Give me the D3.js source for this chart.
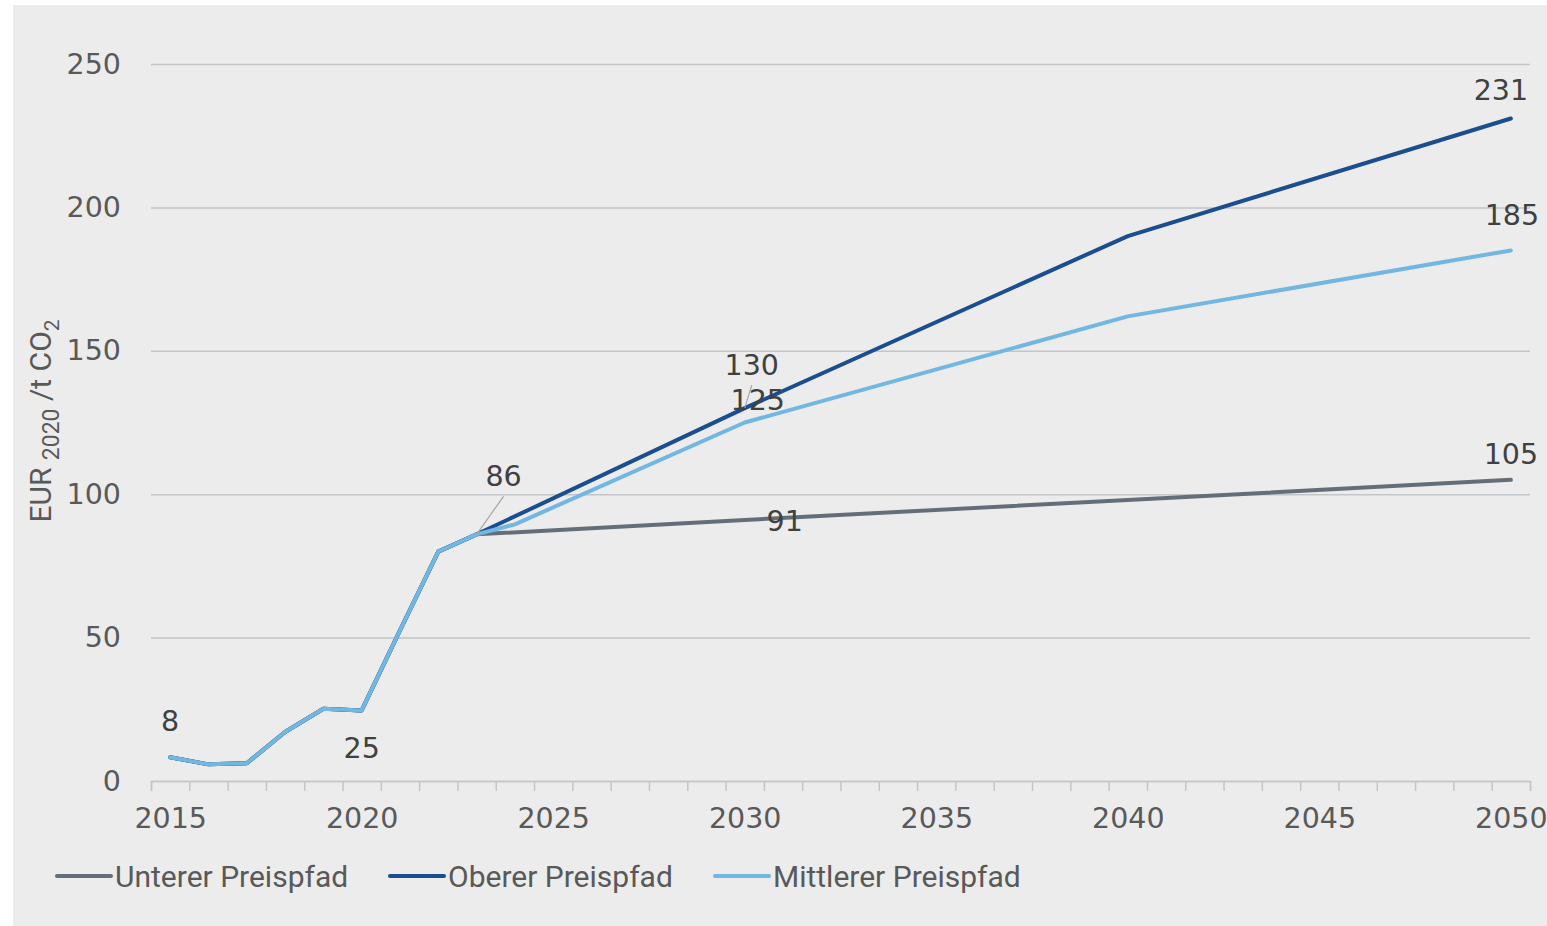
<!DOCTYPE html>
<html>
<head>
<meta charset="utf-8">
<script src="https://cdn.jsdelivr.net/npm/d3@7"></script>
<style>
  html, body { margin: 0; padding: 0; background: #ffffff; }
  svg { display: block; }
</style>
</head>
<body>
<svg id="chart" width="1547" height="926"></svg>
<script>
// Historical CO2 prices 2015–2023 (shared by all three paths)
const histYears  = [2015, 2016, 2017, 2018, 2019, 2020, 2021, 2022, 2023];
const histValues = [8.3, 5.8, 6.2, 17.1, 25.2, 24.6, 52.5, 80, 86];

// Projection years and values per price path
const unterYears  = [2030, 2040, 2050];
const unterValues = [91, 98, 105];
const oberYears   = [2030, 2040, 2050];
const oberValues  = [130, 190, 231];
const mittelYears  = [2024, 2030, 2040, 2050];
const mittelValues = [89.5, 125, 162, 185];

const seriesNames  = ["Unterer Preispfad", "Oberer Preispfad", "Mittlerer Preispfad"];
const seriesColors = ["#646e78", "#1a4e8f", "#72b7e2"];

const xTickLabels = ["2015", "2020", "2025", "2030", "2035", "2040", "2045", "2050"];
const yTickValues = [0, 50, 100, 150, 200, 250];

// Data labels: which series, which year
const labelSpecs = [
  { s: 2, year: 2015, dx: 0,   dy: -36, leader: false },
  { s: 2, year: 2020, dx: 0,   dy: 38,  leader: false },
  { s: 2, year: 2023, dx: 27,  dy: -58, leader: true },
  { s: 1, year: 2030, dx: 7,   dy: -43, leader: true },
  { s: 2, year: 2030, dx: 13,  dy: -22, leader: false },
  { s: 0, year: 2030, dx: 40,  dy: 1,   leader: false },
  { s: 1, year: 2050, dx: -10, dy: -28, leader: false },
  { s: 2, year: 2050, dx: 1,   dy: -35, leader: false },
  { s: 0, year: 2050, dx: 0,   dy: -25, leader: false }
];

const build = (yrs, vals) =>
  histYears.map((yr, i) => ({ year: yr, value: histValues[i] }))
    .concat(yrs.map((yr, i) => ({ year: yr, value: vals[i] })));

const series = [
  build(unterYears, unterValues),
  build(oberYears, oberValues),
  build(mittelYears, mittelValues)
];

const svg = d3.select("#chart");
const numFont = "'DejaVu Sans', sans-serif";
const txtFont = "Roboto, sans-serif";

// Panel background
svg.append("rect")
  .attr("x", 13).attr("y", 5)
  .attr("width", 1547 - 13).attr("height", 926 - 5)
  .attr("fill", "#ececec");

const plotLeft = 151, plotRight = 1530, plotTop = 64, plotBottom = 781;

// Each year occupies one slot; points sit in the slot centre
const xEdge = d3.scaleLinear().domain([2015, 2051]).range([plotLeft, plotRight]);
const xPos = yr => xEdge(yr + 0.5);
const y = d3.scaleLinear().domain([0, 250]).range([plotBottom, plotTop]);

// Gridlines + y labels
const yAxis = d3.axisLeft(y)
  .tickValues(yTickValues)
  .tickSize(-(plotRight - plotLeft))
  .tickPadding(30)
  .tickFormat(d3.format("d"));
const gy = svg.append("g").attr("transform", `translate(${plotLeft},0)`).call(yAxis);
gy.select(".domain").remove();
gy.selectAll(".tick line").attr("stroke", "#c2c6c9").attr("stroke-width", 1.5);
gy.selectAll(".tick text")
  .attr("fill", "#595959")
  .style("font-family", numFont)
  .style("font-size", "28.5px");

// X axis: tick marks on slot edges
const xTicks = d3.axisBottom(xEdge)
  .tickValues(d3.range(2015, 2052))
  .tickSize(10)
  .tickFormat("");
const gxt = svg.append("g").attr("transform", `translate(0,${plotBottom})`).call(xTicks);
gxt.select(".domain").attr("stroke", "#c2c6c9").attr("stroke-width", 1.5);
gxt.selectAll(".tick line").attr("stroke", "#c2c6c9").attr("stroke-width", 1.5);

// X axis labels centred in their slot
const xLabels = d3.axisBottom(xEdge)
  .tickValues(xTickLabels.map(d => +d + 0.5))
  .tickSize(0)
  .tickPadding(27)
  .tickFormat(d => String(Math.floor(d)));
const gxl = svg.append("g").attr("transform", `translate(0,${plotBottom})`).call(xLabels);
gxl.select(".domain").remove();
gxl.selectAll(".tick text")
  .attr("fill", "#595959")
  .style("font-family", numFont)
  .style("font-size", "28.5px");

// Lines
const line = d3.line().x(d => xPos(d.year)).y(d => y(d.value));
svg.append("g").selectAll("path")
  .data(series)
  .join("path")
  .attr("d", line)
  .attr("fill", "none")
  .attr("stroke", (d, i) => seriesColors[i])
  .attr("stroke-width", 4)
  .attr("stroke-linejoin", "round")
  .attr("stroke-linecap", "round");

// Data labels
const fmt = d3.format(".0f");
const lg = svg.append("g");
labelSpecs.forEach(spec => {
  const pt = series[spec.s].find(d => d.year === spec.year);
  const px = xPos(pt.year), py = y(pt.value);
  if (spec.leader) {
    lg.append("line")
      .attr("x1", px).attr("y1", py)
      .attr("x2", px + spec.dx).attr("y2", py + spec.dy + 20)
      .attr("stroke", "#a6a6a6").attr("stroke-width", 1.2);
  }
  lg.append("text")
    .attr("x", px + spec.dx)
    .attr("y", py + spec.dy)
    .attr("text-anchor", "middle")
    .attr("dominant-baseline", "central")
    .attr("fill", "#404040")
    .style("font-family", numFont)
    .style("font-size", "28.5px")
    .text(fmt(pt.value));
});

// Y axis title
const title = svg.append("text")
  .attr("transform", "translate(51,421) rotate(-90)")
  .attr("text-anchor", "middle")
  .attr("fill", "#595959")
  .style("font-family", txtFont)
  .style("font-size", "30px");
title.append("tspan").text("EUR ");
title.append("tspan").attr("dy", 8).style("font-size", "23px").text("2020");
title.append("tspan").attr("dy", -8).text(" /t CO");
title.append("tspan").attr("dy", 8).style("font-size", "21px").text("2");

// Legend
const legendX = [57, 390, 715];
const leg = svg.append("g");
seriesNames.forEach((name, i) => {
  const g = leg.append("g").attr("transform", `translate(${legendX[i]},876)`);
  g.append("line")
    .attr("x1", 0).attr("x2", 54).attr("y1", 0).attr("y2", 0)
    .attr("stroke", seriesColors[i]).attr("stroke-width", 4)
    .attr("stroke-linecap", "round");
  g.append("text")
    .attr("x", 58).attr("y", 0)
    .attr("dominant-baseline", "central")
    .attr("fill", "#595959")
    .style("font-family", txtFont)
    .style("font-size", "30px")
    .text(name);
});
</script>
</body>
</html>
